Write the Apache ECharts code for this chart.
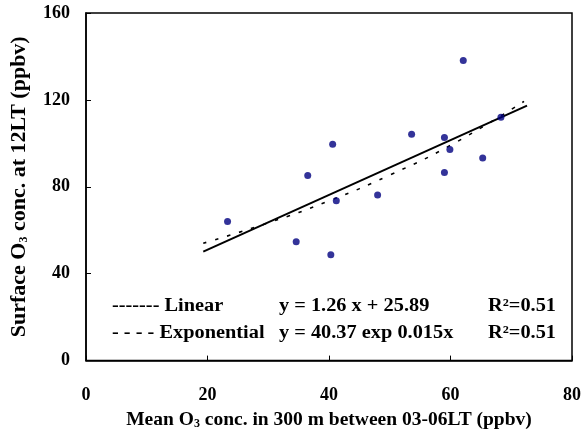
<!DOCTYPE html>
<html><head><meta charset="utf-8">
<script src="https://cdn.jsdelivr.net/npm/echarts@6/dist/echarts.min.js"></script>
<style>html,body{margin:0;padding:0;background:#fff}#c{width:584px;height:435px}</style>
</head><body><div id="c"></div>
<script>
// Observed data (x: mean O3 at 300 m 03-06LT, y: surface O3 at 12LT)
const obsX = [23.3, 34.6, 36.5, 40.3, 40.6, 41.2, 48.0, 53.6, 59.0, 59.0, 59.9, 62.1, 65.3, 68.3];
const obsY = [64.0, 54.7, 85.2, 48.7, 99.6, 73.6, 76.2, 104.2, 102.7, 86.6, 97.2, 138.1, 93.2, 112.0];
// Linear trend line (read endpoints)
const linX = [19.3, 72.6];
const linY = [50.2, 117.4];
// Exponential trend curve (read points)
const expX = [19.3, 30, 40, 50, 60, 72.1];
const expY = [54.0, 63.4, 73.5, 85.4, 99.1, 119.3];
// Axis ticks
const xTicks = [0, 20, 40, 60, 80];
const yTicks = [0, 40, 80, 120, 160];
// Legend / annotation texts
const fitNames = ['------- Linear', '- - - - Exponential'];
const fitEqs = ['y = 1.26 x + 25.89', 'y = 40.37 exp 0.015x'];
const fitR2 = ['R\u00b2=0.51', 'R\u00b2=0.51'];

const F = '"Liberation Serif", "Times New Roman", serif';
const pairs = (xs, ys) => xs.map((x, i) => [x, ys[i]]);

const sub = {fontFamily: F, fontWeight: 'bold', fontSize: 12, color: '#000', verticalAlign: 'bottom', padding: [9, 0, 0, 0]};
const chart = echarts.init(document.getElementById('c'));

const graphics = [];
fitNames.forEach((t, i) => {
  const y = 297 + i * 27;
  graphics.push({type: 'text', x: 112, y: y, scaleX: 1.13, style: {text: t, font: 'bold 18px ' + F, fill: '#000', verticalAlign: 'top'}});
  graphics.push({type: 'text', x: 279, y: y, scaleX: 1.13, style: {text: fitEqs[i], font: 'bold 18px ' + F, fill: '#000', verticalAlign: 'top'}});
  graphics.push({type: 'text', x: 488, y: y, scaleX: 1.13, style: {text: fitR2[i], font: 'bold 18px ' + F, fill: '#000', verticalAlign: 'top'}});
});

chart.setOption({
  animation: false,
  grid: {left: 86, top: 13, right: 9, bottom: 74, show: true, borderColor: '#000', borderWidth: 1.5, backgroundColor: 'transparent'},
  xAxis: {
    type: 'value', min: xTicks[0], max: xTicks[xTicks.length - 1], interval: 20,
    axisLine: {lineStyle: {color: '#000', width: 1.5}},
    axisTick: {inside: true, length: 5, lineStyle: {color: '#000', width: 1}},
    splitLine: {show: false},
    axisLabel: {margin: 26, fontFamily: F, fontWeight: 'bold', fontSize: 18, color: '#000'},
    name: '{t|Mean O}{s|3}{t| conc. in 300 m between 03-06LT (ppbv)}',
    nameLocation: 'middle', nameGap: 40,
    nameTextStyle: {rich: {
      t: {fontFamily: F, fontWeight: 'bold', fontSize: 19.5, color: '#000'},
      s: sub
    }}
  },
  yAxis: {
    type: 'value', min: yTicks[0], max: yTicks[yTicks.length - 1], interval: 40,
    axisLine: {show: true, lineStyle: {color: '#000', width: 1.5}},
    axisTick: {show: true, inside: true, length: 5, lineStyle: {color: '#000', width: 1}},
    splitLine: {show: false},
    axisLabel: {margin: 16, fontFamily: F, fontWeight: 'bold', fontSize: 18, color: '#000'},
    name: '{t|Surface O}{s|3}{t| conc. at 12LT (ppbv)}',
    nameLocation: 'middle', nameGap: 56,
    nameTextStyle: {rich: {
      t: {fontFamily: F, fontWeight: 'bold', fontSize: 22, color: '#000'},
      s: sub
    }}
  },
  series: [
    {type: 'line', data: pairs(linX, linY), symbol: 'none', lineStyle: {color: '#000', width: 2}, z: 3},
    {type: 'line', data: pairs(expX, expY), symbol: 'none', smooth: true, lineStyle: {color: '#000', width: 1.6, type: [3.5, 9]}, z: 3},
    {type: 'scatter', data: pairs(obsX, obsY), symbol: 'circle', symbolSize: 7, itemStyle: {color: '#000080'}, z: 4}
  ],
  graphic: graphics
});
</script></body></html>
